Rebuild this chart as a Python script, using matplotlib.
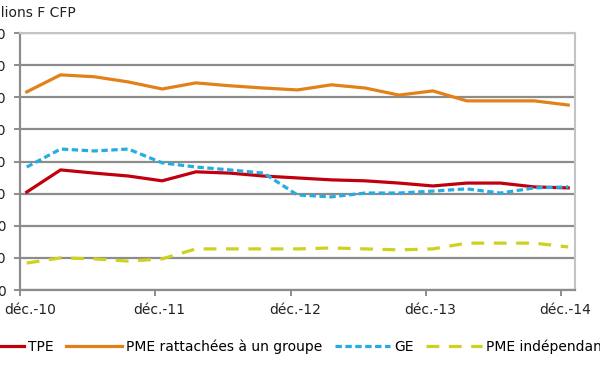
import numpy as np
import matplotlib
matplotlib.use("Agg")
import matplotlib.pyplot as plt

# quarterly values, déc.-10 to déc.-14
quarters = np.arange(17)
tpe = [30.5, 37.4, 36.4, 35.5, 34.0, 36.8, 36.4, 35.5, 34.9, 34.3, 34.0, 33.3, 32.4, 33.3, 33.3, 32.1, 31.8]
pme_groupe = [61.7, 67.0, 66.4, 64.8, 62.6, 64.5, 63.6, 62.9, 62.3, 63.9, 62.9, 60.7, 62.0, 58.9, 58.9, 58.9, 57.6]
ge = [38.3, 43.9, 43.3, 43.9, 39.6, 38.3, 37.4, 36.4, 29.6, 29.0, 30.2, 30.2, 30.8, 31.5, 30.2, 31.8, 32.1]
pme_indep = [8.4, 10.0, 9.7, 9.0, 9.7, 12.8, 12.8, 12.8, 12.8, 13.1, 12.8, 12.5, 12.8, 14.6, 14.6, 14.6, 13.4]

year_labels = ["déc.-10", "déc.-11", "déc.-12", "déc.-13", "déc.-14"]
y_ticks = [0, 10, 20, 30, 40, 50, 60, 70, 80]

plt.rcParams['font.family'] = ['DejaVu Sans']
fs = 10

fig = plt.figure(figsize=(6, 3.72), dpi=100)
ax = fig.add_axes([0.0333, 0.2204, 0.925, 0.6906])

ax.plot(quarters, tpe, color='#C0000F', lw=2.3, label='TPE')
ax.plot(quarters, pme_groupe, color='#E2801A', lw=2.3, label='PME rattachées à un groupe')
ax.plot(quarters, ge, color='#25ACE2', lw=2.3, dashes=(2.0, 1.1), label='GE')
ax.plot(quarters, pme_indep, color='#CCD21E', lw=2.3, dashes=(4, 3), label='PME indépendantes')

ax.set_xlim(-0.2, 16.2)
ax.set_ylim(0, 80)
ax.set_yticks(y_ticks)
ax.set_yticklabels([str(v) for v in y_ticks], fontsize=fs, color='#222222')

# tick marks at year boundaries (minor), labels slightly to the right (major)
tick_pos = [4 * i - 0.2 for i in range(5)]
label_pos = [tick_pos[0] + 0.3] + [p + 0.12 for p in tick_pos[1:]]
ax.set_xticks(tick_pos, minor=True)
ax.set_xticks(label_pos)
ax.set_xticklabels(year_labels, fontsize=fs, color='#222222')

ax.grid(axis='y', color='#8c8c8c', lw=1.6)
ax.set_axisbelow(True)
for s in ['top', 'right']:
    ax.spines[s].set_color('#c4c4c4')
    ax.spines[s].set_linewidth(1.5)
for s in ['left', 'bottom']:
    ax.spines[s].set_color('#8c8c8c')
    ax.spines[s].set_linewidth(1.6)
ax.tick_params(axis='y', length=4, width=1.4, color='#8c8c8c', pad=6)
ax.tick_params(axis='x', which='major', length=0, pad=9)
ax.tick_params(axis='x', which='minor', length=4, width=1.4, color='#8c8c8c')

fig.text(76 / 600, 0.965, "Millions F CFP", ha='right', va='center', fontsize=fs, color='#222222')

fig.legend(loc='center left', bbox_to_anchor=(-0.053, 0.067), ncol=4, frameon=False,
           fontsize=fs, handlelength=4.0, handletextpad=0.3, columnspacing=0.9,
           borderaxespad=0, borderpad=0)

fig.savefig("out.png", dpi=100)
